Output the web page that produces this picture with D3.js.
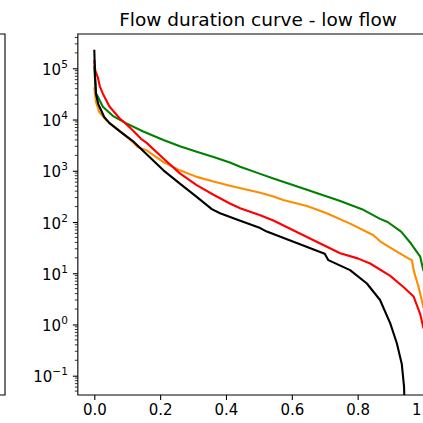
<!DOCTYPE html>
<html>
<head>
<meta charset="utf-8">
<script src="https://cdn.jsdelivr.net/npm/d3@7"></script>
<style>
  html, body { margin: 0; padding: 0; background: #fff; }
  svg { display: block; font-family: "DejaVu Sans", sans-serif; }
</style>
</head>
<body>
<div id="chart"></div>
<script>
// Exceedance probability (x) and flow values (y)
const blackX = [0.000, 0.002, 0.005, 0.012, 0.020, 0.030, 0.046, 0.076, 0.117, 0.159, 0.210, 0.260, 0.311, 0.357, 0.382, 0.433, 0.504, 0.524, 0.605, 0.686, 0.700, 0.711, 0.777, 0.828, 0.868, 0.899, 0.919, 0.934, 0.941, 0.944];
const blackY = [2.3e5, 8.0e4, 3.2e4, 2.0e4, 1.55e4, 1.12e4, 8.5e3, 6.0e3, 3.8e3, 2.1e3, 1.02e3, 560, 310, 178, 148, 112, 76, 65, 41, 26, 24, 18, 11.5, 6.3, 3.0, 1.05, 0.43, 0.17, 0.06, 0.01];

const redX = [0.000, 0.003, 0.010, 0.017, 0.026, 0.046, 0.076, 0.106, 0.142, 0.159, 0.210, 0.260, 0.311, 0.362, 0.412, 0.443, 0.504, 0.544, 0.646, 0.747, 0.800, 0.838, 0.899, 0.939, 0.970, 0.990, 1.000];
const redY = [1.45e5, 9.0e4, 6.9e4, 4.4e4, 3.2e4, 1.8e4, 1.07e4, 7.2e3, 4.2e3, 3.5e3, 1.74e3, 890, 525, 340, 230, 186, 135, 107, 51, 24.5, 19.5, 15.5, 8.9, 5.4, 3.5, 1.6, 0.83];

const orangeX = [0.000, 0.005, 0.015, 0.036, 0.066, 0.106, 0.132, 0.159, 0.210, 0.260, 0.311, 0.362, 0.412, 0.504, 0.544, 0.574, 0.646, 0.706, 0.777, 0.848, 0.868, 0.909, 0.954, 0.965, 0.970, 0.985, 0.995, 1.000];
const orangeY = [4.3e4, 2.2e4, 1.4e4, 9.8e3, 6.8e3, 4.2e3, 2.9e3, 2.5e3, 1.48e3, 1.02e3, 760, 615, 510, 372, 316, 270, 205, 148, 93, 55, 42, 29, 19.5, 17.8, 11.5, 5.4, 2.95, 2.1];

const greenX = [0.000, 0.002, 0.005, 0.026, 0.056, 0.096, 0.147, 0.210, 0.260, 0.311, 0.362, 0.412, 0.443, 0.504, 0.544, 0.646, 0.747, 0.813, 0.868, 0.891, 0.932, 0.962, 0.990, 1.000];
const greenY = [1.12e5, 6.3e4, 3.3e4, 1.78e4, 1.18e4, 8.5e3, 5.9e3, 4.0e3, 3.0e3, 2.35e3, 1.86e3, 1.45e3, 1.2e3, 870, 708, 427, 257, 178, 115, 100, 65, 38, 21, 11];

const seriesColors = ["#008000", "#ff8c00", "#ff0000", "#000000"];
const xTicks = [0.0, 0.2, 0.4, 0.6, 0.8, 1.0];
const yTicks = [1e-1, 1e0, 1e1, 1e2, 1e3, 1e4, 1e5];
const title = "Flow duration curve - low flow";

const width = 423;
const height = 423;
const plotLeft = 77.84, plotRight = 439.96, plotTop = 34, plotBottom = 395;

const svg = d3.select("#chart")
  .append("svg")
  .attr("width", width)
  .attr("height", height)
  .attr("viewBox", [0, 0, width, height]);

const x = d3.scaleLinear().domain([-0.05, 1.05]).range([plotLeft, plotRight]);
const y = d3.scaleLog().domain([Math.pow(10, -1.3767), Math.pow(10, 5.6695)]).range([plotBottom, plotTop]);

// frame edge of the neighbouring panel
svg.append("path")
  .attr("d", `M-2,${plotTop}H5V${plotBottom}H-2`)
  .attr("fill", "none")
  .attr("stroke", "#000")
  .attr("stroke-width", 1.1);

svg.append("clipPath").attr("id", "clip")
  .append("rect")
  .attr("x", plotLeft).attr("y", plotTop)
  .attr("width", plotRight - plotLeft).attr("height", plotBottom - plotTop);

const series = [
  [greenX, greenY],
  [orangeX, orangeY],
  [redX, redY],
  [blackX, blackY]
];

const line = d3.line()
  .x(d => x(d[0]))
  .y(d => y(d[1]));

svg.append("g")
  .attr("clip-path", "url(#clip)")
  .selectAll("path")
  .data(series)
  .join("path")
  .attr("d", s => line(s[0].map((v, i) => [v, s[1][i]])))
  .attr("fill", "none")
  .attr("stroke", (s, i) => seriesColors[i])
  .attr("stroke-width", 2.1)
  .attr("stroke-linejoin", "round");

// x axis
const xAxis = svg.append("g")
  .attr("transform", `translate(0,${plotBottom})`)
  .call(d3.axisBottom(x).tickValues(xTicks).tickFormat(d3.format(".1f")).tickSize(5).tickPadding(4));
xAxis.select(".domain").remove();
xAxis.selectAll(".tick line").attr("stroke-width", 1.1);
xAxis.selectAll(".tick text")
  .attr("font-size", 15)
  .attr("font-family", "DejaVu Sans")
  .attr("fill", "#000");

// y axis: minor ticks
const [lo, hi] = y.domain();
const minor = [];
for (let e = -2; e <= 5; e++) {
  for (let m = 2; m <= 9; m++) {
    const v = m * Math.pow(10, e);
    if (v >= lo && v <= hi) minor.push(v);
  }
}
svg.append("g")
  .selectAll("line")
  .data(minor)
  .join("line")
  .attr("x1", plotLeft - 3).attr("x2", plotLeft)
  .attr("y1", d => y(d)).attr("y2", d => y(d))
  .attr("stroke", "#000")
  .attr("stroke-width", 0.8);

const yAxis = svg.append("g")
  .attr("transform", `translate(${plotLeft},0)`)
  .call(d3.axisLeft(y).tickValues(yTicks).tickFormat("").tickSize(5));
yAxis.select(".domain").remove();
yAxis.selectAll(".tick line").attr("stroke-width", 1.1);

const labels = svg.append("g")
  .selectAll("text")
  .data(yTicks)
  .join("text")
  .attr("x", plotLeft - 10)
  .attr("y", d => y(d) + 6.5)
  .attr("text-anchor", "end")
  .attr("font-size", 15)
  .attr("fill", "#000");
labels.append("tspan").text("10");
labels.append("tspan")
  .attr("font-size", 10.5)
  .attr("dy", -7)
  .text(d => {
    const e = Math.round(Math.log10(d));
    return e < 0 ? "\u2212" + (-e) : String(e);
  });

// spines
svg.append("path")
  .attr("d", `M${plotRight},${plotTop}H${plotLeft}V${plotBottom}H${plotRight}`)
  .attr("fill", "none")
  .attr("stroke", "#000")
  .attr("stroke-width", 1.1);

svg.append("text")
  .attr("x", 258)
  .attr("y", 26)
  .attr("text-anchor", "middle")
  .attr("font-size", 18.5)
  .attr("fill", "#000")
  .text(title);
</script>
</body>
</html>
